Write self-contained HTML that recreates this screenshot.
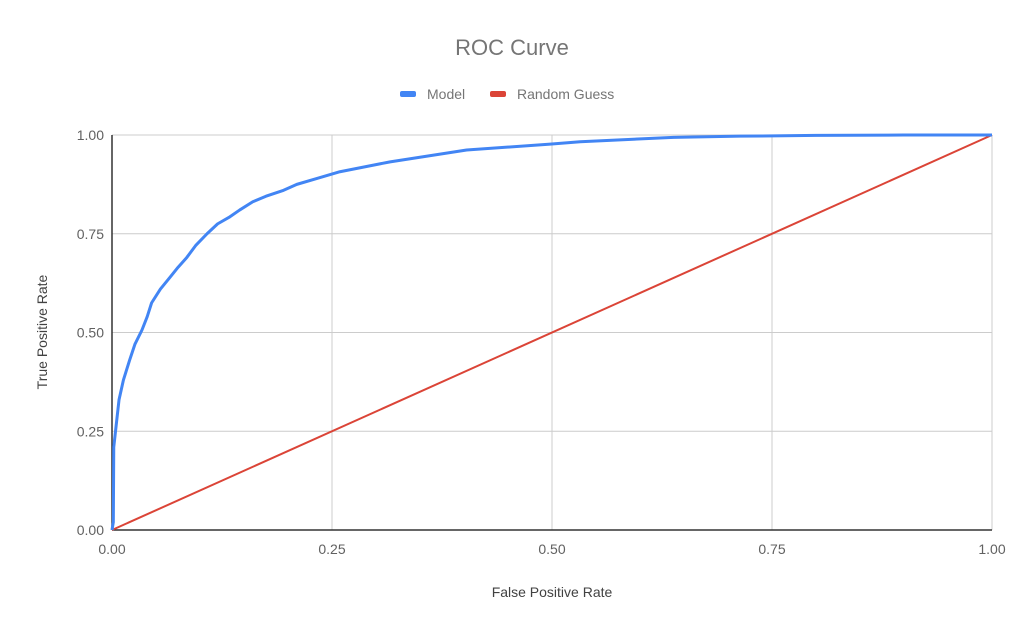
<!DOCTYPE html>
<html><head><meta charset="utf-8"><style>
body{margin:0;background:#fff;font-family:"Liberation Sans",Roboto,sans-serif}
svg{display:block}
</style></head><body>
<svg width="1024" height="633" id="chart">
<rect width="1024" height="633" fill="#fff"/>
<text x="512" y="55" text-anchor="middle" font-size="22" fill="#757575">ROC Curve</text>
<g>
<rect x="400" y="91" width="16" height="6" rx="2" fill="#4285f4"/>
<text x="427" y="99" font-size="14" fill="#757575">Model</text>
<rect x="490" y="91" width="16" height="6" rx="2" fill="#db4437"/>
<text x="517" y="99" font-size="14" fill="#757575">Random Guess</text>
</g>
<g id="grid"></g>
<g id="series"></g>
<text x="552" y="597" text-anchor="middle" font-size="14" fill="#424242">False Positive Rate</text>
<text transform="translate(47,332) rotate(-90)" text-anchor="middle" font-size="14" fill="#424242">True Positive Rate</text>
</svg>
<script>
const xTicks=[0,0.25,0.5,0.75,1];
const yTicks=[0,0.25,0.5,0.75,1];
const tickLabels=["0.00","0.25","0.50","0.75","1.00"];
const modelFpr=[0,0.0015,0.002,0.005,0.008,0.013,0.02,0.026,0.034,0.04,0.045,0.055,0.066,0.075,0.085,0.095,0.108,0.12,0.134,0.145,0.16,0.175,0.195,0.21,0.233,0.259,0.316,0.403,0.498,0.532,0.638,0.714,0.8,0.9,1];
const modelTpr=[0,0.02,0.21,0.27,0.33,0.38,0.43,0.47,0.506,0.54,0.575,0.61,0.64,0.665,0.69,0.72,0.75,0.775,0.793,0.81,0.831,0.845,0.86,0.875,0.89,0.907,0.932,0.962,0.977,0.983,0.994,0.997,0.999,1,1];
const randomFpr=[0,1];
const randomTpr=[0,1];
const X0=112,X1=992,Y0=530,Y1=135;
const sx=v=>X0+v*(X1-X0), sy=v=>Y0-v*(Y0-Y1);
const NS="http://www.w3.org/2000/svg";
const grid=document.getElementById('grid'), series=document.getElementById('series');
function mk(tag,attrs,parent){const e=document.createElementNS(NS,tag);for(const k in attrs)e.setAttribute(k,attrs[k]);parent.appendChild(e);return e;}
yTicks.forEach((t,i)=>{
  if(t>0){const l=mk('line',{x1:X0,x2:X1,y1:sy(t),y2:sy(t),stroke:'#cccccc','stroke-width':1},grid);
  
  }
  const tx=mk('text',{x:X0-8,y:sy(t)+5,'text-anchor':'end','font-size':14,fill:'#616161'},grid);
  tx.textContent=tickLabels[i];
  
  
});
xTicks.forEach((t,i)=>{
  if(t>0){const l=mk('line',{x1:sx(t),x2:sx(t),y1:Y1,y2:Y0,stroke:'#cccccc','stroke-width':1},grid);
  
  }
  const tx=mk('text',{x:sx(t),y:Y0+24,'text-anchor':'middle','font-size':14,fill:'#616161'},grid);
  tx.textContent=tickLabels[i];
  
  
});
const ax=mk('line',{x1:X0,x2:X1,y1:Y0,y2:Y0,stroke:'#333',"stroke-width":1.5},grid);


const ay=mk('line',{x1:X0,x2:X0,y1:Y1,y2:Y0,stroke:'#333',"stroke-width":1.5},grid);


const rp=mk('polyline',{points:randomFpr.map((v,i)=>sx(v)+','+sy(randomTpr[i])).join(' '),fill:'none',stroke:'#db4437','stroke-width':2},series);


const mp=mk('polyline',{points:modelFpr.map((v,i)=>sx(v)+','+sy(modelTpr[i])).join(' '),fill:'none',stroke:'#4285f4','stroke-width':3,'stroke-linejoin':'round'},series);


</script>
</body></html>
